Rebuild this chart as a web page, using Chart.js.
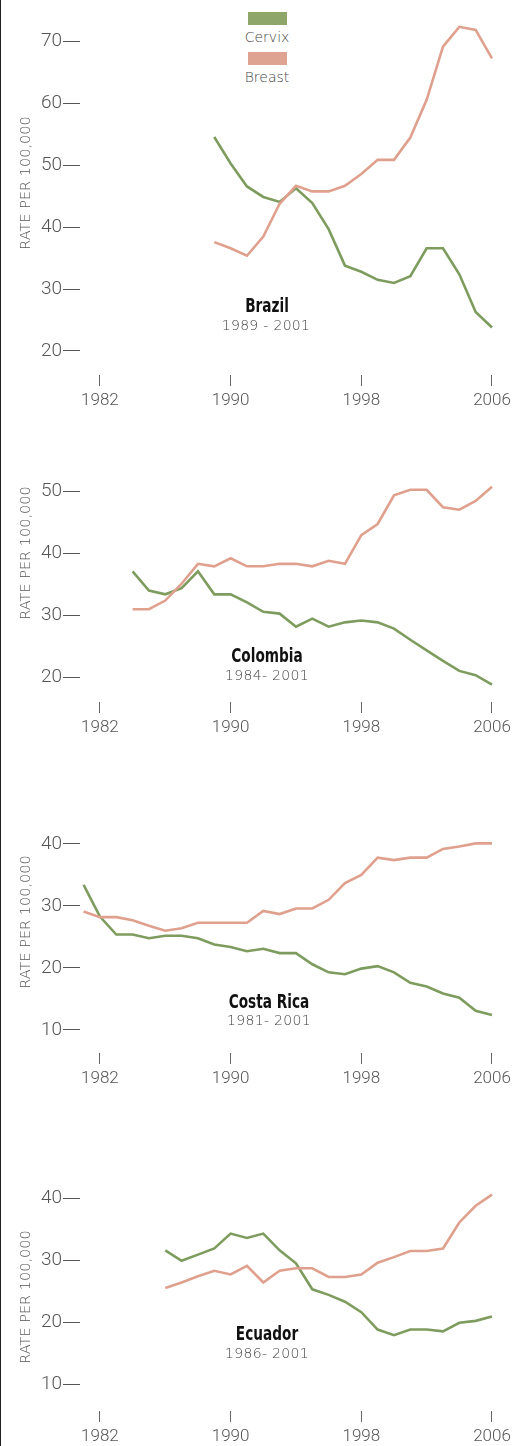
<!DOCTYPE html>
<html>
<head>
<meta charset="utf-8">
<script src="https://cdn.jsdelivr.net/npm/chart.js@4/dist/chart.umd.min.js"></script>
<style>
  html, body { margin: 0; padding: 0; background: #fff; }
  body { width: 512px; height: 1446px; position: relative; overflow: hidden; }
  #borda { position: absolute; left: 0; top: 0; width: 1px; height: 1446px; background: #222; }
  .painel { position: absolute; left: 0; width: 512px; }
  .titulo { position: absolute; transform: translate(-50%, -50%) scaleX(0.8); white-space: nowrap;
            font-family: "DejaVu Sans Condensed", "DejaVu Sans", sans-serif;
            font-weight: bold; font-size: 19px; color: #111; }
  .periodo { position: absolute; transform: translate(-50%, -50%); white-space: nowrap;
             font-family: "DejaVu Sans", sans-serif; font-weight: 200; font-size: 14px;
             color: #444; letter-spacing: 0.3px; }
  .eixo { position: absolute; transform: translate(-50%, -50%) rotate(-90deg); white-space: nowrap;
          font-family: "DejaVu Sans", sans-serif; font-weight: 200; font-size: 14.5px; color: #555; }
  .leg-cor { position: absolute; left: 248px; width: 39px; height: 13px; }
  .leg-txt { position: absolute; left: 267px; transform: translate(-50%, -50%);
             font-family: "DejaVu Sans", sans-serif; font-weight: 200; font-size: 14px; color: #444; }
</style>
</head>
<body>
<div id="borda"></div>

<div class="leg-cor" style="top:12px; background:#8fa66b;"></div>
<div class="leg-txt" style="top:37px;">Cervix</div>
<div class="leg-cor" style="top:52px; background:#dfa392;"></div>
<div class="leg-txt" style="top:77px;">Breast</div>

<div class="painel" style="top:0px; height:411px;"><canvas id="graficoBrasil"></canvas></div>
<div class="painel" style="top:440px; height:298px;"><canvas id="graficoColombia"></canvas></div>
<div class="painel" style="top:800px; height:289px;"><canvas id="graficoCostaRica"></canvas></div>
<div class="painel" style="top:1150px; height:297px;"><canvas id="graficoEquador"></canvas></div>

<div class="eixo" style="left:25px; top:183px;">RATE PER 100,000</div>
<div class="eixo" style="left:25px; top:553px;">RATE PER 100,000</div>
<div class="eixo" style="left:25px; top:922px;">RATE PER 100,000</div>
<div class="eixo" style="left:25px; top:1297px;">RATE PER 100,000</div>

<div class="titulo" style="left:267px; top:305px;">Brazil</div>
<div class="periodo" style="left:266px; top:325px;">1989 - 2001</div>
<div class="titulo" style="left:267px; top:655px;">Colombia</div>
<div class="periodo" style="left:267px; top:675px;">1984- 2001</div>
<div class="titulo" style="left:269px; top:1001px;">Costa Rica</div>
<div class="periodo" style="left:269px; top:1020px;">1981- 2001</div>
<div class="titulo" style="left:267px; top:1333px;">Ecuador</div>
<div class="periodo" style="left:267px; top:1353px;">1986- 2001</div>

<script>
// anos mostrados no eixo x
const anosEixo = [1982, 1990, 1998, 2006];

// Brazil
const anosBrasil = [1989, 1990, 1991, 1992, 1993, 1994, 1995, 1996, 1997, 1998, 1999, 2000, 2001, 2002, 2003, 2004, 2005, 2006];
const cervixBrasil = [54.6, 50.3, 46.6, 44.9, 44.1, 46.3, 43.9, 39.7, 33.8, 32.8, 31.5, 31.0, 32.1, 36.6, 36.6, 32.4, 26.3, 23.8];
const mamaBrasil = [37.6, 36.6, 35.4, 38.5, 43.8, 46.7, 45.8, 45.8, 46.7, 48.6, 50.9, 50.9, 54.5, 60.6, 69.2, 72.4, 71.9, 67.3];
const ticksBrasil = [20, 30, 40, 50, 60, 70];

// Colombia
const anosColombia = [1984, 1985, 1986, 1987, 1988, 1989, 1990, 1991, 1992, 1993, 1994, 1995, 1996, 1997, 1998, 1999, 2000, 2001, 2002, 2003, 2004, 2005, 2006];
const cervixColombia = [37.1, 34.0, 33.4, 34.4, 37.1, 33.4, 33.4, 32.1, 30.6, 30.3, 28.2, 29.5, 28.2, 28.9, 29.2, 28.9, 27.9, 26.1, 24.4, 22.7, 21.1, 20.4, 18.9];
const mamaColombia = [31.0, 31.0, 32.4, 35.1, 38.3, 37.9, 39.2, 37.9, 37.9, 38.3, 38.3, 37.9, 38.8, 38.3, 42.9, 44.7, 49.3, 50.2, 50.2, 47.4, 47.0, 48.4, 50.7];
const ticksColombia = [20, 30, 40, 50];

// Costa Rica
const anosCostaRica = [1981, 1982, 1983, 1984, 1985, 1986, 1987, 1988, 1989, 1990, 1991, 1992, 1993, 1994, 1995, 1996, 1997, 1998, 1999, 2000, 2001, 2002, 2003, 2004, 2005, 2006];
const cervixCostaRica = [33.4, 28.3, 25.4, 25.4, 24.8, 25.2, 25.2, 24.8, 23.8, 23.4, 22.7, 23.1, 22.4, 22.4, 20.6, 19.3, 19.0, 19.9, 20.3, 19.3, 17.6, 17.0, 15.9, 15.2, 13.1, 12.4];
const mamaCostaRica = [29.1, 28.2, 28.2, 27.7, 26.8, 26.0, 26.4, 27.3, 27.3, 27.3, 27.3, 29.2, 28.7, 29.6, 29.6, 31.0, 33.7, 35.0, 37.8, 37.4, 37.8, 37.8, 39.2, 39.6, 40.1, 40.1];
const ticksCostaRica = [10, 20, 30, 40];

// Ecuador
const anosEquador = [1986, 1987, 1988, 1989, 1990, 1991, 1992, 1993, 1994, 1995, 1996, 1997, 1998, 1999, 2000, 2001, 2002, 2003, 2004, 2005, 2006];
const cervixEquador = [31.6, 29.9, 30.9, 31.9, 34.3, 33.6, 34.3, 31.6, 29.5, 25.3, 24.4, 23.3, 21.6, 18.8, 17.9, 18.8, 18.8, 18.5, 19.9, 20.2, 20.9];
const mamaEquador = [25.5, 26.4, 27.4, 28.3, 27.7, 29.1, 26.4, 28.3, 28.7, 28.7, 27.3, 27.3, 27.7, 29.6, 30.5, 31.5, 31.5, 31.9, 36.1, 38.8, 40.6];
const ticksEquador = [10, 20, 30, 40];

const corCervix = '#7f9c5f';
const corMama = '#dfa08e';
const fonteTicks = 'Roboto, "Liberation Sans", sans-serif';

function pontos(anos, valores) {
    return anos.map((ano, i) => ({ x: ano, y: valores[i] }));
}

function criarGrafico(id, anos, cervix, mama, ticksY, yMin, yMax) {
    const ctx = document.getElementById(id).getContext('2d');
    return new Chart(ctx, {
        type: 'line',
        data: {
            datasets: [
                { label: 'Breast', data: pontos(anos, mama), borderColor: corMama, borderWidth: 2.6, pointRadius: 0, tension: 0, fill: false },
                { label: 'Cervix', data: pontos(anos, cervix), borderColor: corCervix, borderWidth: 2.6, pointRadius: 0, tension: 0, fill: false }
            ]
        },
        options: {
            responsive: true,
            maintainAspectRatio: false,
            animation: false,
            layout: { padding: { top: 10, right: 12, bottom: 0, left: 0 } },
            plugins: { legend: { display: false }, tooltip: { enabled: false } },
            scales: {
                x: {
                    type: 'linear',
                    min: 1980.78,
                    max: 2006.49,
                    afterBuildTicks: (eixo) => { eixo.ticks = anosEixo.map(v => ({ value: v })); },
                    afterFit: (eixo) => {
                        eixo.height = 36;
                        // sem folga extra para os rótulos das pontas
                        eixo.paddingLeft = 0;
                        eixo.paddingRight = 0;
                    },
                    border: { display: false },
                    grid: { drawOnChartArea: false, drawTicks: true, tickLength: 11, color: '#666', lineWidth: 1 },
                    ticks: {
                        padding: 5,
                        color: '#555',
                        autoSkip: false,
                        maxRotation: 0,
                        font: { family: fonteTicks, size: 17, weight: 300 },
                        callback: (v) => String(v)
                    }
                },
                y: {
                    min: yMin,
                    max: yMax,
                    afterBuildTicks: (eixo) => { eixo.ticks = ticksY.map(v => ({ value: v })); },
                    afterFit: (eixo) => {
                        eixo.width = 80;
                        eixo.paddingTop = 0;
                        eixo.paddingBottom = 0;
                    },
                    border: { display: false },
                    grid: { drawOnChartArea: false, drawTicks: true, tickLength: 17, color: '#555', lineWidth: 1 },
                    ticks: {
                        padding: 1,
                        color: '#555',
                        font: { family: fonteTicks, size: 19, weight: 300 },
                        callback: (v) => String(v)
                    }
                }
            }
        }
    });
}

criarGrafico('graficoBrasil', anosBrasil, cervixBrasil, mamaBrasil, ticksBrasil, 16.12, 75.12);
criarGrafico('graficoColombia', anosColombia, cervixColombia, mamaColombia, ticksColombia, 16.1, 56.59);
criarGrafico('graficoCostaRica', anosCostaRica, cervixCostaRica, mamaCostaRica, ticksCostaRica, 6.29, 45.48);
criarGrafico('graficoEquador', anosEquador, cervixEquador, mamaEquador, ticksEquador, 5.64, 46.19);
</script>
</body>
</html>
